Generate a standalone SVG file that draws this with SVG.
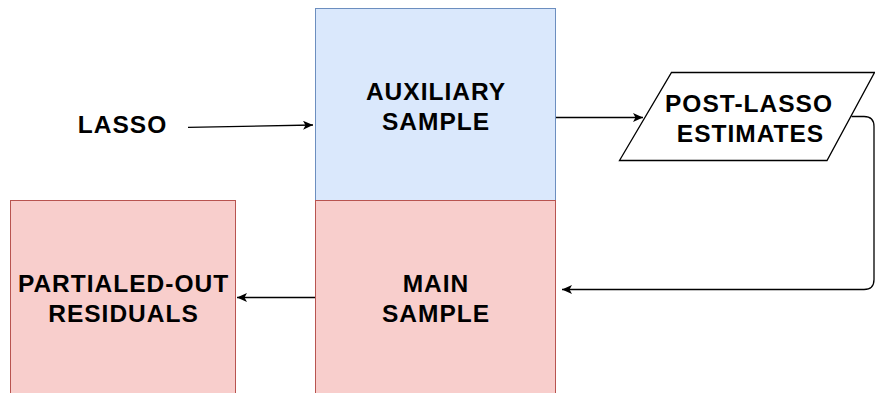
<svg xmlns="http://www.w3.org/2000/svg" width="875" height="393" viewBox="0 0 875 393">
<style>
.t{font-family:"Liberation Sans",Arial,sans-serif;font-weight:bold;font-size:24.5px;letter-spacing:1px;fill:#000;text-anchor:middle}
.blue{fill:#dae8fc;stroke:#6c8ebf;stroke-width:1}
.red{fill:#f8cecc;stroke:#b85450;stroke-width:1}
.edge{fill:none;stroke:#000;stroke-width:1.3}
</style>
<defs>
<marker id="arr" markerUnits="userSpaceOnUse" markerWidth="12" markerHeight="10" refX="10" refY="4.5" orient="auto">
<path d="M0,0 L10,4.5 L0,9 L2.5,4.5 Z" fill="#000"/>
</marker>
</defs>
<rect width="875" height="393" fill="#fff"/>
<g id="node-aux">
<rect class="blue" x="315.5" y="8.5" width="240" height="192"/>
<text class="t" x="436" y="100">AUXILIARY</text>
<text class="t" x="436" y="130">SAMPLE</text>
</g>
<g id="node-main">
<rect class="red" x="315.5" y="200.5" width="240" height="200"/>
<text class="t" x="436" y="292">MAIN</text>
<text class="t" x="436" y="322">SAMPLE</text>
</g>
<g id="node-partialed">
<rect class="red" x="10.5" y="200.5" width="225" height="200"/>
<text class="t" x="123.5" y="292">PARTIALED-OUT</text>
<text class="t" x="123.5" y="322">RESIDUALS</text>
</g>
<g id="node-lasso">
<text class="t" x="122.5" y="133">LASSO</text>
</g>
<g id="node-post">
<polygon points="671.5,72.5 874.5,72.5 827,160.5 619.5,160.5" fill="#fff" stroke="#000" stroke-width="1.3"/>
<text class="t" x="749" y="112">POST-LASSO</text>
<text class="t" x="750.5" y="142">ESTIMATES</text>
</g>
<g id="connectors">
<path class="edge" d="M188,127.3 L313,125" marker-end="url(#arr)"/>
<path class="edge" d="M556,117.5 L643,117.5" marker-end="url(#arr)"/>
<path class="edge" d="M851.5,116.5 L864,116.5 Q874,116.5 874,126.5 L874,279.5 Q874,289.5 864,289.5 L562,289.5" marker-end="url(#arr)"/>
<path class="edge" d="M315,297.5 L237,297.5" marker-end="url(#arr)"/>
</g>
</svg>
